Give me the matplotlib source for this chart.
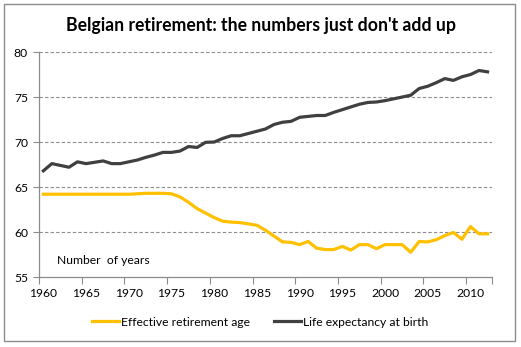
import matplotlib
matplotlib.use('Agg')
import matplotlib.pyplot as plt
from matplotlib.patches import Rectangle
import numpy as np

years = list(range(1960, 2013))

retirement_age = [64.2, 64.2, 64.2, 64.2, 64.2, 64.2, 64.2, 64.2, 64.2, 64.2,
                  64.2, 64.25, 64.3, 64.3, 64.3, 64.25, 63.9, 63.3, 62.6, 62.1,
                  61.6, 61.2, 61.1, 61.05, 60.9, 60.75, 60.2, 59.55, 58.9, 58.85,
                  58.6, 58.95, 58.2, 58.05, 58.05, 58.4, 58.0, 58.6, 58.6, 58.15,
                  58.6, 58.6, 58.6, 57.75, 58.95, 58.9, 59.15, 59.6, 59.95, 59.2,
                  60.6, 59.8, 59.8]

life_expectancy = [66.8, 67.6, 67.4, 67.2, 67.8, 67.6, 67.75, 67.9, 67.6, 67.6,
                   67.8, 68.0, 68.3, 68.55, 68.85, 68.85, 69.0, 69.5, 69.4, 69.97,
                   70.0, 70.4, 70.7, 70.7, 70.95, 71.2, 71.45, 71.95, 72.2, 72.3,
                   72.75, 72.85, 72.95, 72.95, 73.3, 73.6, 73.9, 74.2, 74.4, 74.45,
                   74.6, 74.8, 75.0, 75.2, 75.95, 76.2, 76.6, 77.05, 76.85, 77.25,
                   77.5, 77.95, 77.8]

label_years = list(range(1960, 2011, 5))
y_ticks = [55, 60, 65, 70, 75, 80]

plt.rcParams['font.family'] = ['Lato', 'DejaVu Sans']

fig = plt.figure(figsize=(5.21, 3.47), dpi=100)
fig.subplots_adjust(left=0.075, right=0.944, top=0.850, bottom=0.2017)
ax = fig.add_subplot(111)

# outer border of the chart
fig.patches.append(Rectangle((4 / 521, 1 - 341 / 347), 511 / 521, 337 / 347,
                             transform=fig.transFigure, fill=False,
                             edgecolor='#8c8c8c', lw=1.0))

ax.plot(years, retirement_age, color='#FFC000', lw=2.3,
        label='Effective retirement age', solid_joinstyle='round')
ax.plot(years, life_expectancy, color='#404040', lw=2.3,
        label='Life expectancy at birth', solid_joinstyle='round')

ax.set_xlim(1959.5, 2012.5)
ax.set_ylim(55, 80)

# category axis: ticks between categories, labels on categories
ax.set_xticks([y - 0.5 for y in label_years] + [2012.5])
ax.set_xticklabels([])
ax.set_xticks(label_years, minor=True)
ax.set_xticklabels([str(y) for y in label_years], minor=True)
ax.tick_params(axis='x', which='major', length=5, color='#8c8c8c', direction='out')
ax.tick_params(axis='x', which='minor', length=0, pad=8, labelsize=8.7)

ax.set_yticks(y_ticks)
ax.tick_params(axis='y', length=4, color='#8c8c8c', direction='out', pad=4,
               labelsize=8.7)

for v in y_ticks[1:]:
    ax.axhline(v, color='#8c8c8c', lw=0.8, ls=(0, (3, 2)), zorder=0)

for s in ['top', 'right']:
    ax.spines[s].set_visible(False)
for s in ['left', 'bottom']:
    ax.spines[s].set_color('#8c8c8c')
    ax.spines[s].set_linewidth(0.9)

ax.text(1961.6, 56.8, 'Number  of years', fontsize=8.7, va='center', ha='left')

fig.text(0.5, 1 - 26 / 347, "Belgian retirement: the numbers just don't add up",
         ha='center', va='center', fontsize=12.7, fontweight='bold')

fig.legend(loc='center', bbox_to_anchor=(0.5, 1 - 322 / 347), ncol=2,
           frameon=False, fontsize=8.7, handlelength=2.2, handletextpad=0.2,
           columnspacing=2.0)

fig.savefig('out.png', dpi=100)
